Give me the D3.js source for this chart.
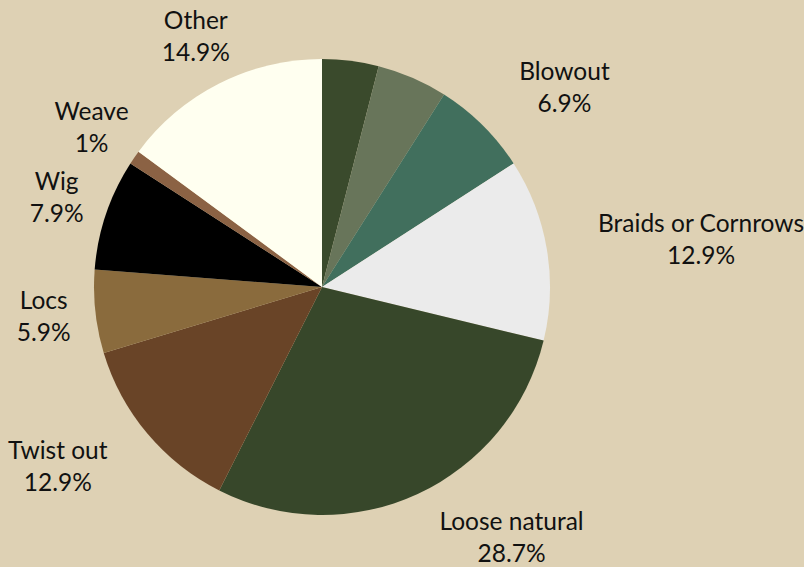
<!DOCTYPE html>
<html>
<head>
<meta charset="utf-8">
<script src="https://cdn.jsdelivr.net/npm/d3@7"></script>
<style>
  html, body { margin: 0; padding: 0; background: #ded1b4; }
  svg { display: block; }
  text { font-family: Lato, "Open Sans", sans-serif; font-size: 24.5px; fill: #111; }
</style>
</head>
<body>
<svg id="chart" width="804" height="567"></svg>
<script>
// Data (percent of responses)
const categories = ["", "", "Blowout", "Braids or Cornrows", "Loose natural", "Twist out", "Locs", "Wig", "Weave", "Other"];
const values = [4.0, 5.0, 6.9, 12.9, 28.7, 12.9, 5.9, 7.9, 1.0, 14.9];
const colors = ["#3a4a2c", "#68755a", "#416f5d", "#ebebeb", "#37472a", "#694427", "#8a6b3d", "#000000", "#8b6244", "#fffff0"];

const W = 804, H = 567;
const cx = 322, cy = 287, R = 228, labelR = 280;

const svg = d3.select("#chart");
svg.append("rect").attr("width", W).attr("height", H).attr("fill", "#ded1b4");

const data = categories.map((c, i) => ({ name: c, value: values[i], color: colors[i] }));
const pie = d3.pie().value(d => d.value).sort(null);
const arcs = pie(data);
const arc = d3.arc().innerRadius(0).outerRadius(R);

const g = svg.append("g").attr("transform", `translate(${cx},${cy})`);
g.selectAll("path").data(arcs).enter().append("path")
  .attr("d", arc)
  .attr("fill", d => d.data.color);

const fmt = v => d3.format(".1f")(v).replace(/\.0$/, "") + "%";

const labels = g.selectAll("g.lbl").data(arcs.filter(d => d.data.name)).enter()
  .append("g").attr("class", "lbl");

labels.each(function(d) {
  const grp = d3.select(this);
  const a = (d.startAngle + d.endAngle) / 2;
  const px = Math.sin(a) * labelR;
  let py = -Math.cos(a) * labelR;
  // keep the block inside the canvas vertically
  const maxBase = (H - 5) - cy;
  if (py + 24 > maxBase) py = maxBase - 24;
  const t1 = grp.append("text").attr("text-anchor", "middle").attr("y", py - 8).text(d.data.name);
  const t2 = grp.append("text").attr("text-anchor", "middle").attr("y", py + 24).text(fmt(d.data.value));
  const w = Math.max(t1.node().getComputedTextLength(), t2.node().getComputedTextLength());
  let x;
  if (Math.sin(a) >= 0) {
    x = px + w / 2;
  } else {
    x = px;
    // if the centred block would touch the pie, push it fully outside
    const right = x + w / 2, top = py - 26, bottom = py + 24;
    const yNear = Math.abs(top) < Math.abs(bottom) ? top : bottom;
    if (Math.hypot(right, yNear) < R + 2) x = px - w / 2;
  }
  t1.attr("x", x);
  t2.attr("x", x);
});
</script>
</body>
</html>
